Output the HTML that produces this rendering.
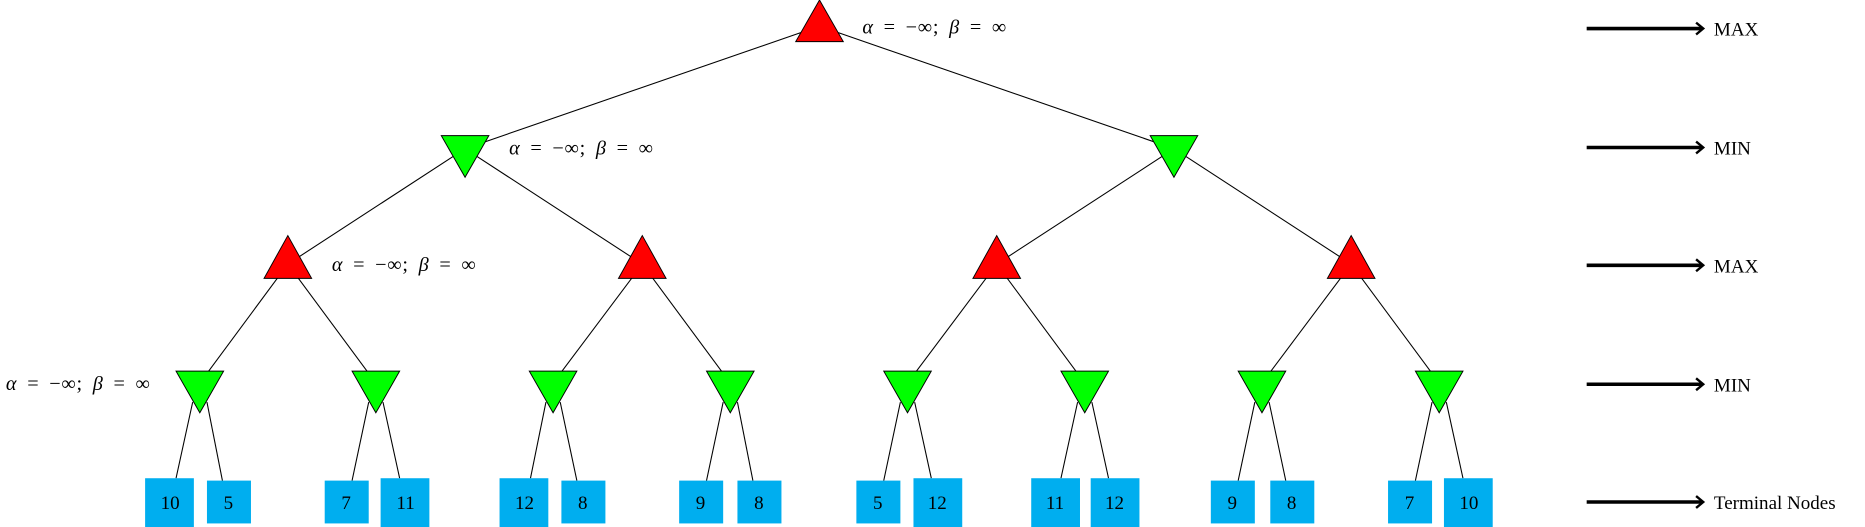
<!DOCTYPE html>
<html><head><meta charset="utf-8"><style>html,body{margin:0;padding:0;background:#fff}svg{display:block}</style></head>
<body>
<svg width="1865" height="527" viewBox="0 0 1568 443" preserveAspectRatio="none" xmlns="http://www.w3.org/2000/svg" font-family="'Liberation Serif', serif">
<g stroke="#000" stroke-width="0.9">
<line x1="689" y1="22" x2="391" y2="125"/><line x1="689" y1="22" x2="987" y2="125"/>
<line x1="391" y1="125" x2="242" y2="222"/><line x1="391" y1="125" x2="540" y2="222"/>
<line x1="987" y1="125" x2="838" y2="222"/><line x1="987" y1="125" x2="1136" y2="222"/>
<line x1="242" y1="222" x2="168" y2="322"/><line x1="242" y1="222" x2="316" y2="322"/>
<line x1="540" y1="222" x2="465" y2="322"/><line x1="540" y1="222" x2="614" y2="322"/>
<line x1="838" y1="222" x2="763" y2="322"/><line x1="838" y1="222" x2="912" y2="322"/>
<line x1="1136" y1="222" x2="1061" y2="322"/><line x1="1136" y1="222" x2="1210" y2="322"/>
<line x1="162" y1="338" x2="148" y2="402"/><line x1="174" y1="338" x2="187" y2="404"/>
<line x1="310" y1="338" x2="296" y2="404"/><line x1="322" y1="338" x2="336" y2="402"/>
<line x1="459" y1="338" x2="446" y2="402"/><line x1="471" y1="338" x2="485" y2="404"/>
<line x1="608" y1="338" x2="594" y2="404"/><line x1="620" y1="338" x2="633" y2="404"/>
<line x1="757" y1="338" x2="743" y2="404"/><line x1="769" y1="338" x2="783" y2="402"/>
<line x1="906" y1="338" x2="892" y2="402"/><line x1="918" y1="338" x2="932" y2="402"/>
<line x1="1055" y1="338" x2="1041" y2="404"/><line x1="1067" y1="338" x2="1081" y2="404"/>
<line x1="1204" y1="338" x2="1190" y2="404"/><line x1="1216" y1="338" x2="1230" y2="402"/>
</g>
<g stroke="#000" stroke-width="0.8">
<polygon points="689,0 709,35 669,35" fill="#ff0000"/>
<polygon points="371,114 411,114 391,149" fill="#00ff00"/>
<polygon points="967,114 1007,114 987,149" fill="#00ff00"/>
<polygon points="242,198 262,234 222,234" fill="#ff0000"/>
<polygon points="540,198 560,234 520,234" fill="#ff0000"/>
<polygon points="838,198 858,234 818,234" fill="#ff0000"/>
<polygon points="1136,198 1156,234 1116,234" fill="#ff0000"/>
<polygon points="148,312 188,312 168,347" fill="#00ff00"/>
<polygon points="296,312 336,312 316,347" fill="#00ff00"/>
<polygon points="445,312 485,312 465,347" fill="#00ff00"/>
<polygon points="594,312 634,312 614,347" fill="#00ff00"/>
<polygon points="743,312 783,312 763,347" fill="#00ff00"/>
<polygon points="892,312 932,312 912,347" fill="#00ff00"/>
<polygon points="1041,312 1081,312 1061,347" fill="#00ff00"/>
<polygon points="1190,312 1230,312 1210,347" fill="#00ff00"/>
</g>
<g fill="#00aeef">
<rect x="122" y="402" width="41" height="41"/><rect x="174" y="404" width="37" height="36"/>
<rect x="273" y="404" width="37" height="36"/><rect x="320" y="402" width="41" height="41"/>
<rect x="420" y="402" width="41" height="41"/><rect x="472" y="404" width="37" height="36"/>
<rect x="571" y="404" width="37" height="36"/><rect x="620" y="404" width="37" height="36"/>
<rect x="720" y="404" width="37" height="36"/><rect x="768" y="402" width="41" height="41"/>
<rect x="867" y="402" width="41" height="41"/><rect x="917" y="402" width="41" height="41"/>
<rect x="1018" y="404" width="37" height="36"/><rect x="1068" y="404" width="37" height="36"/>
<rect x="1167" y="404" width="37" height="36"/><rect x="1214" y="402" width="41" height="41"/>
</g>
<g font-size="16" text-anchor="middle" fill="#000">
<text x="143" y="428">10</text><text x="192" y="428">5</text>
<text x="291" y="428">7</text><text x="341" y="428">11</text>
<text x="441" y="428">12</text><text x="490" y="428">8</text>
<text x="589" y="428">9</text><text x="638" y="428">8</text>
<text x="738" y="428">5</text><text x="788" y="428">12</text>
<text x="887" y="428">11</text><text x="937" y="428">12</text>
<text x="1036" y="428">9</text><text x="1086" y="428">8</text>
<text x="1185" y="428">7</text><text x="1235" y="428">10</text>
</g>
<g font-size="17" fill="#000" word-spacing="3.5" letter-spacing="0.6">
<text x="725" y="28"><tspan font-style="italic">α</tspan> = −∞; <tspan font-style="italic">β</tspan> = ∞</text>
<text x="428" y="130"><tspan font-style="italic">α</tspan> = −∞; <tspan font-style="italic">β</tspan> = ∞</text>
<text x="279" y="228"><tspan font-style="italic">α</tspan> = −∞; <tspan font-style="italic">β</tspan> = ∞</text>
<text x="5" y="328"><tspan font-style="italic">α</tspan> = −∞; <tspan font-style="italic">β</tspan> = ∞</text>
</g>
<g stroke="#000" stroke-width="3" fill="none">
<line x1="1334" y1="24" x2="1431" y2="24"/><polyline points="1426,19 1432,24 1426,29" stroke-width="2"/>
<line x1="1334" y1="124" x2="1431" y2="124"/><polyline points="1426,119 1432,124 1426,129" stroke-width="2"/>
<line x1="1334" y1="223" x2="1431" y2="223"/><polyline points="1426,218 1432,223 1426,228" stroke-width="2"/>
<line x1="1334" y1="323" x2="1431" y2="323"/><polyline points="1426,318 1432,323 1426,328" stroke-width="2"/>
<line x1="1334" y1="422" x2="1431" y2="422"/><polyline points="1426,417 1432,422 1426,427" stroke-width="2"/>
</g>
<g font-size="16" fill="#000">
<text x="1441" y="30">MAX</text><text x="1441" y="130">MIN</text><text x="1441" y="229">MAX</text><text x="1441" y="329">MIN</text><text x="1441" y="428">Terminal Nodes</text>
</g>
</svg>
</body></html>
